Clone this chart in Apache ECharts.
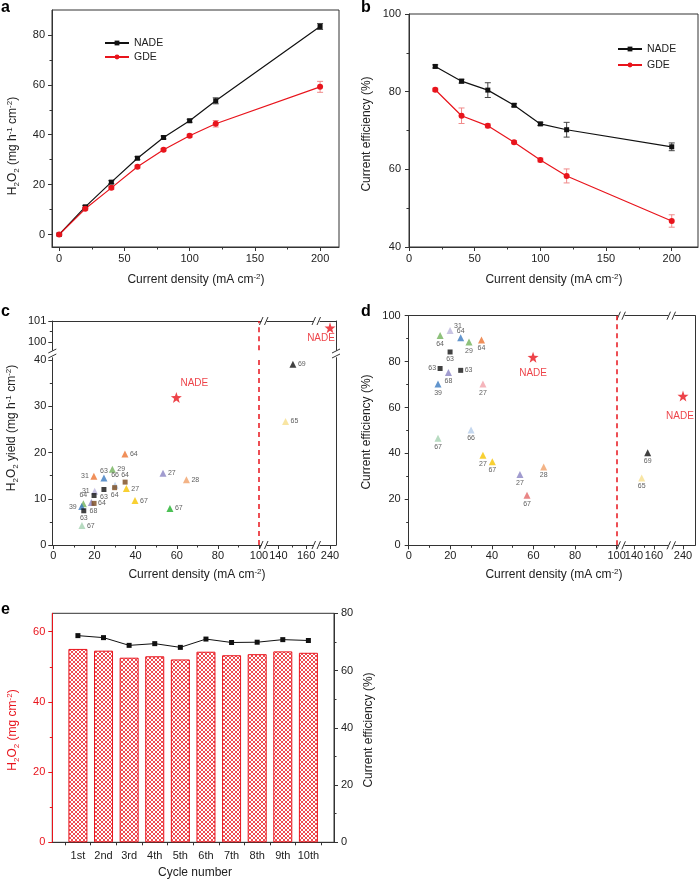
<!DOCTYPE html>
<html><head><meta charset="utf-8"><title>chart</title>
<script src="https://cdn.jsdelivr.net/npm/echarts@6.0.0/dist/echarts.min.js"></script>
<style>html,body{margin:0;padding:0;background:#fff;}#chart{width:699px;height:880px;}</style>
</head><body><div id="chart"></div>
<script>
// ================= DATA =================
// panel a
const densityA = [0, 20, 40, 60, 80, 100, 120, 200];
const yieldNadeA = [0, 11.1, 21.0, 30.6, 38.9, 45.6, 53.6, 83.4];
const yieldNadeErrA = [0.3, 0.5, 0.6, 0.6, 0.6, 0.6, 1.2, 1.2];
const yieldGdeA = [0, 10.3, 18.7, 27.2, 34.0, 39.6, 44.4, 59.2];
const yieldGdeErrA = [0.3, 0.5, 0.6, 0.6, 0.5, 0.6, 1.3, 2.2];
// panel b
const densityB = [20, 40, 60, 80, 100, 120, 200];
const effNadeB = [86.5, 82.7, 80.4, 76.5, 71.7, 70.2, 65.8];
const effNadeErrB = [0.4, 0.5, 1.9, 0.4, 0.4, 1.9, 1.0];
const effGdeB = [80.5, 73.8, 71.2, 67.0, 62.4, 58.3, 46.7];
const effGdeErrB = [0.4, 2.0, 0.5, 0.4, 0.5, 1.8, 1.6];
// panel c (literature yields, 0-100 mA cm-2)
const litDensityC = [34.8, 28.7, 24.6, 19.7, 53.3, 64.7, 30.0, 29.8, 34.9, 35.5, 24.6, 20.1, 19.8, 39.7, 18.5, 19.8, 14.6, 13.8, 14.8, 13.9, 56.7];
const litYieldC = [19.7, 16.4, 14.5, 14.85, 15.5, 14.1, 12.9, 12.4, 13.6, 12.2, 12.0, 11.6, 10.7, 9.6, 9.2, 9.0, 8.9, 8.3, 7.4, 4.2, 7.9];
const litRefC = ['64', '29', '63', '31', '27', '28', '66', '64', '64', '27', '63', '31', '', '67', '68', '64', '64', '39', '63', '67', '67'];
const litHighDensityC = [150.5, 145.2];
const litHighYieldC = [39.1, 26.7];
const litHighRefC = ['69', '65'];
const nadeDensityC = [59.8, 240];
const nadeYieldC = [31.9, 100.68];
// panel d (literature current efficiencies)
const litDensityD = [15.1, 19.9, 25.0, 29.0, 35.0, 19.9, 15.1, 19.1, 25.0, 14.1, 35.7, 30.0, 14.1, 35.7, 40.2, 53.5, 64.9, 56.9];
const litEffD = [91.4, 93.5, 90.4, 88.5, 89.4, 84.2, 77.0, 75.3, 76.2, 70.2, 70.2, 50.2, 46.6, 39.2, 36.4, 30.8, 34.1, 21.8];
const litRefD = ['64', '31', '64', '29', '64', '63', '63', '68', '63', '39', '27', '66', '67', '27', '67', '27', '28', '67'];
const litHighDensityD = [153.7, 147.7];
const litHighEffD = [40.3, 29.3];
const litHighRefD = ['69', '65'];
const nadeDensityD = [59.8, 240];
const nadeEffD = [81.9, 65.0];
// panel e
const cycles = ['1st', '2nd', '3rd', '4th', '5th', '6th', '7th', '8th', '9th', '10th'];
const cycleH2O2 = [55.1, 54.6, 52.6, 53.0, 52.1, 54.3, 53.3, 53.6, 54.4, 54.0];
const cycleEff = [72.2, 71.5, 68.8, 69.4, 68.1, 71.0, 69.8, 69.9, 70.8, 70.5];
// tick values
const ticksA_x = [0, 50, 100, 150, 200], minorA_x = [25, 75, 125, 175];
const ticksA_y = [0, 20, 40, 60, 80], minorA_y = [10, 30, 50, 70];
const ticksB_x = [0, 50, 100, 150, 200], minorB_x = [25, 75, 125, 175];
const ticksB_y = [40, 60, 80, 100], minorB_y = [50, 70, 90];
const ticksLow_x = [0, 20, 40, 60, 80, 100], minorLow_x = [10, 30, 50, 70, 90];
const ticksMid_x = [140, 160], minorMid_x = [150];
const ticksHigh_x = [240];
const ticksC_y = [0, 10, 20, 30, 40], minorC_y = [5, 15, 25, 35];
const ticksCup_y = [100, 101], minorCup_y = [100.5];
const ticksD_y = [0, 20, 40, 60, 80, 100], minorD_y = [10, 30, 50, 70, 90];
const ticksE_x = [0.5, 1.5, 2.5, 3.5, 4.5, 5.5, 6.5, 7.5, 8.5, 9.5, 10.5];
const labelsE_x = [1, 2, 3, 4, 5, 6, 7, 8, 9, 10];
const ticksE_yl = [0, 20, 40, 60], minorE_yl = [10, 30, 50];
const ticksE_yr = [0, 20, 40, 60, 80], minorE_yr = [10, 30, 50, 70];

// ================= STYLES =================
const FONT = '"Liberation Sans", Arial, Helvetica, sans-serif';
const RED = '#e8141c';
const INK = '#222';
const AXC = '#333';
const COL = {
  orange: '#ec7331', green: '#72b25a', blue: '#3b7bc0', lav: '#bcb5dc', purple: '#8a83c3',
  brown: '#7a4a1c', yellow: '#f6c400', pgreen: '#a5d2b2', bgreen: '#1fb02a', peach: '#f0a068',
  pink: '#f2a3aa', lblue: '#b5cdea', red67: '#e46868', pyellow: '#f6df8c', black: '#111'
};
// [shape, colour, label position, extra label options]
const styleC = [
  ['t', COL.orange, 'right'], ['t', COL.green, 'right'], ['t', COL.blue, 'top', {distance: 0}], ['t', COL.orange, 'left'],
  ['t', COL.purple, 'right'], ['t', COL.peach, 'right'], ['t', COL.lblue, 'top', {distance: 3}], ['s', COL.brown, 'bottom'],
  ['s', COL.brown, 'top'], ['t', COL.yellow, 'right'], ['s', COL.black, 'bottom'], ['t', COL.lav, 'left'],
  ['s', COL.black, 'right'], ['t', COL.yellow, 'right'], ['t', COL.purple, 'bottom', {offset: [2, 0]}], ['s', COL.brown, 'right'],
  ['t', COL.green, 'top'], ['t', COL.blue, 'left'], ['s', COL.black, 'bottom'], ['t', COL.pgreen, 'right'], ['t', COL.bgreen, 'right']
];
const styleCHigh = [['t', COL.black, 'right'], ['t', COL.pyellow, 'right']];
const styleD = [
  ['t', COL.green, 'bottom'], ['t', COL.lav, 'right', {offset: [-1, -5]}], ['t', COL.blue, 'top', {distance: 0}], ['t', COL.green, 'bottom'],
  ['t', COL.orange, 'bottom'], ['s', COL.black, 'bottom'], ['s', COL.black, 'left'], ['t', COL.purple, 'bottom'],
  ['s', COL.black, 'right'], ['t', COL.blue, 'bottom'], ['t', COL.pink, 'bottom'], ['t', COL.lblue, 'bottom'],
  ['t', COL.pgreen, 'bottom'], ['t', COL.yellow, 'bottom'], ['t', COL.yellow, 'bottom'], ['t', COL.purple, 'bottom'],
  ['t', COL.peach, 'bottom'], ['t', COL.red67, 'bottom']
];
const styleDHigh = [['t', COL.black, 'bottom'], ['t', COL.pyellow, 'bottom']];
const SHAPE = {t: 'triangle', s: 'rect'};
const SIZE = {t: 7, s: 5};

// ================= BUILDERS =================
const grids = [], xAxes = [], yAxes = [], series = [], graphics = [];
function addGrid(left, top, width, height, border) {
  grids.push({left, top, width, height, containLabel: false, outerBoundsMode: 'none',
    show: !!border, borderColor: AXC, borderWidth: 1, backgroundColor: 'transparent'});
  return grids.length - 1;
}
function mkAxis(gridIndex, min, max, position, o) {
  o = o || {};
  const color = o.color || AXC;
  return {
    type: 'value', gridIndex, min, max, position, show: o.show !== false,
    axisLine: {show: o.line !== false, onZero: false, lineStyle: {color, width: 1}},
    axisTick: {show: !!o.ticks, customValues: o.ticks, length: o.len || 4, inside: false, lineStyle: {color, width: 1}},
    axisLabel: {show: !!o.labels, customValues: o.labels, margin: o.margin == null ? 6 : o.margin,
      color: o.labelColor || INK, fontSize: 11, fontFamily: FONT, formatter: o.fmt},
    splitLine: {show: false}, splitArea: {show: false}, minorTick: {show: false}, minorSplitLine: {show: false}
  };
}
function addX(g, min, max, pos, o) { xAxes.push(mkAxis(g, min, max, pos, o)); return xAxes.length - 1; }
function addY(g, min, max, pos, o) { yAxes.push(mkAxis(g, min, max, pos, o)); return yAxes.length - 1; }

function lineSeries(name, xs, ys, xi, yi, color, symbol, size) {
  series.push({type: 'line', name, xAxisIndex: xi, yAxisIndex: yi,
    data: xs.map((x, i) => [x, ys[i]]), symbol, symbolSize: size, showSymbol: true,
    itemStyle: {color}, lineStyle: {color, width: 1.2}, z: 4, silent: true});
}
function errSeries(xs, ys, es, xi, yi, color) {
  series.push({type: 'custom', name: 'err', xAxisIndex: xi, yAxisIndex: yi, silent: true, z: 3,
    data: xs.map((x, i) => [x, ys[i], es[i]]),
    encode: {x: 0, y: 1},
    renderItem: function (params, api) {
      const x = api.value(0), y = api.value(1), e = api.value(2);
      const hi = api.coord([x, y + e]), lo = api.coord([x, y - e]);
      const w = 3, st = {stroke: color, lineWidth: 1};
      return {type: 'group', children: [
        {type: 'line', shape: {x1: hi[0], y1: hi[1], x2: lo[0], y2: lo[1]}, style: st},
        {type: 'line', shape: {x1: hi[0] - w, y1: hi[1], x2: hi[0] + w, y2: hi[1]}, style: st},
        {type: 'line', shape: {x1: lo[0] - w, y1: lo[1], x2: lo[0] + w, y2: lo[1]}, style: st}
      ]};
    }});
}
function litSeries(xi, yi, xs, ys, refs, styles) {
  const data = xs.map((x, i) => {
    const s = styles[i];
    return {value: [x, ys[i]], symbol: SHAPE[s[0]], symbolSize: SIZE[s[0]], itemStyle: {color: s[1]},
      label: Object.assign({show: refs[i] !== '', formatter: refs[i] || ' ', position: s[2], distance: 1.5,
        fontSize: 7, color: '#333', fontFamily: FONT}, s[3] || {})};
  });
  series.push({type: 'scatter', name: 'lit', xAxisIndex: xi, yAxisIndex: yi, data, clip: false, z: 5, silent: true});
}
function starSeries(xi, yi, x, y, lab) {
  series.push({type: 'scatter', name: 'star', xAxisIndex: xi, yAxisIndex: yi, clip: false, z: 6, silent: true,
    data: [{value: [x, y], symbol: 'path://M0,-10L2.35,-3.24L9.51,-3.09L3.8,1.24L5.88,8.09L0,4L-5.88,8.09L-3.8,1.24L-9.51,-3.09L-2.35,-3.24Z',
      symbolSize: 11, itemStyle: {color: RED},
      label: Object.assign({show: true, formatter: 'NADE', color: RED, fontSize: 10, fontFamily: FONT}, lab)}]});
}
function dashSeries(xi, yi, ys) {
  series.push({type: 'scatter', name: 'dash', xAxisIndex: xi, yAxisIndex: yi, data: [], silent: true,
    markLine: {silent: true, symbol: ['none', 'none'], animation: false, label: {show: false},
      lineStyle: {color: RED, type: [5, 4], width: 1.5}, data: [[{coord: [100, ys[0]]}, {coord: [100, ys[1]]}]]}});
}
function seg(x1, y1, x2, y2) { graphics.push({type: 'line', silent: true, shape: {x1, y1, x2, y2}, style: {stroke: AXC, lineWidth: 1}}); }
function hBreak(cx, y) { seg(cx - 4.5, y + 4, cx - 1, y - 4); seg(cx + 0.5, y + 4, cx + 4, y - 4); }
function vBreak(x, cy) { seg(x - 4, cy - 1, x + 4, cy - 5); seg(x - 4, cy + 4, x + 4, cy); }
function rich(color) {
  return {
    n: {fontSize: 12, lineHeight: 15, fill: color, fontFamily: FONT, verticalAlign: 'middle'},
    sub: {fontSize: 8, lineHeight: 8, fill: color, fontFamily: FONT, verticalAlign: 'bottom'},
    sup: {fontSize: 8, lineHeight: 8, fill: color, fontFamily: FONT, verticalAlign: 'top'}
  };
}
function title(x, y, text, rot, color) {
  color = color || INK;
  graphics.push({type: 'text', x, y, rotation: rot ? Math.PI / 2 : 0, silent: true,
    style: {text, rich: rich(color), fill: color, fontSize: 12, fontFamily: FONT, align: 'center', verticalAlign: 'middle'}});
}
function letter(x, y, t) {
  graphics.push({type: 'text', x, y, silent: true,
    style: {text: t, fill: '#000', fontSize: 16, fontWeight: 'bold', fontFamily: FONT, align: 'left', verticalAlign: 'top'}});
}
const T_DENS = '{n|Current density (mA cm}{sup|-2}{n|)}';
const T_EFF = '{n|Current efficiency (%)}';

// ================= PANEL a =================
const gA = addGrid(52, 10, 287, 237, true);
const xA = addX(gA, -5.5, 214.5, 'bottom', {ticks: ticksA_x, labels: ticksA_x});
addX(gA, -5.5, 214.5, 'bottom', {line: false, ticks: minorA_x, len: 2.5});
const yA = addY(gA, -5, 90, 'left', {ticks: ticksA_y, labels: ticksA_y, margin: 7});
addY(gA, -5, 90, 'left', {line: false, ticks: minorA_y, len: 2.5});
errSeries(densityA, yieldNadeA, yieldNadeErrA, xA, yA, '#444');
errSeries(densityA, yieldGdeA, yieldGdeErrA, xA, yA, '#f08a8a');
lineSeries('NADE', densityA, yieldNadeA, xA, yA, '#111', 'rect', 5);
lineSeries('GDE', densityA, yieldGdeA, xA, yA, RED, 'circle', 6);

// ================= PANEL b =================
const gB = addGrid(409, 14, 289, 233, true);
const xB = addX(gB, 0, 220, 'bottom', {ticks: ticksB_x, labels: ticksB_x});
addX(gB, 0, 220, 'bottom', {line: false, ticks: minorB_x, len: 2.5});
const yB = addY(gB, 40, 100, 'left', {ticks: ticksB_y, labels: ticksB_y, margin: 8});
addY(gB, 40, 100, 'left', {line: false, ticks: minorB_y, len: 2.5});
errSeries(densityB, effNadeB, effNadeErrB, xB, yB, '#444');
errSeries(densityB, effGdeB, effGdeErrB, xB, yB, '#f08a8a');
lineSeries('NADE', densityB, effNadeB, xB, yB, '#111', 'rect', 5);
lineSeries('GDE', densityB, effGdeB, xB, yB, RED, 'circle', 6);

// ================= PANEL c (broken axes) =================
const cLowTop = 357.7, cLowH = 187.3, cUpTop = 321, cUpH = 29.3;
const cLeft = [52.3, 208.8, -0.5, 101], cMid = [267, 46, 131.8, 165], cHigh = [320, 16, 232.8, 244.3];
const cLL = addGrid(cLeft[0], cLowTop, cLeft[1], cLowH);
const cML = addGrid(cMid[0], cLowTop, cMid[1], cLowH);
const cHL = addGrid(cHigh[0], cLowTop, cHigh[1], cLowH);
const cLU = addGrid(cLeft[0], cUpTop, cLeft[1], cUpH);
const cMU = addGrid(cMid[0], cUpTop, cMid[1], cUpH);
const cHU = addGrid(cHigh[0], cUpTop, cHigh[1], cUpH);
// lower row
const xcLL = addX(cLL, cLeft[2], cLeft[3], 'bottom', {ticks: ticksLow_x, labels: ticksLow_x, margin: 5});
addX(cLL, cLeft[2], cLeft[3], 'bottom', {line: false, ticks: minorLow_x, len: 2.5});
const ycLL = addY(cLL, 0, 40.5, 'left', {ticks: ticksC_y, labels: ticksC_y, margin: 6});
addY(cLL, 0, 40.5, 'left', {line: false, ticks: minorC_y, len: 2.5});
const xcML = addX(cML, cMid[2], cMid[3], 'bottom', {ticks: ticksMid_x, labels: ticksMid_x, margin: 5});
addX(cML, cMid[2], cMid[3], 'bottom', {line: false, ticks: minorMid_x, len: 2.5});
const ycML = addY(cML, 0, 40.5, 'left', {show: false});
const xcHL = addX(cHL, cHigh[2], cHigh[3], 'bottom', {ticks: ticksHigh_x, labels: ticksHigh_x, margin: 5});
const ycHL = addY(cHL, 0, 40.5, 'right', {});
// upper row
const xcLU = addX(cLU, cLeft[2], cLeft[3], 'top', {});
const ycLU = addY(cLU, 99.62, 101, 'left', {ticks: ticksCup_y, labels: ticksCup_y, margin: 6});
addY(cLU, 99.62, 101, 'left', {line: false, ticks: minorCup_y, len: 2.5});
const xcMU = addX(cMU, cMid[2], cMid[3], 'top', {});
const ycMU = addY(cMU, 99.62, 101, 'left', {show: false});
const xcHU = addX(cHU, cHigh[2], cHigh[3], 'top', {});
const ycHU = addY(cHU, 99.62, 101, 'right', {});
dashSeries(xcLL, ycLL, [0, 40.5]);
dashSeries(xcLU, ycLU, [99.62, 101]);
litSeries(xcLL, ycLL, litDensityC, litYieldC, litRefC, styleC);
litSeries(xcML, ycML, litHighDensityC, litHighYieldC, litHighRefC, styleCHigh);
starSeries(xcLL, ycLL, nadeDensityC[0], nadeYieldC[0], {position: 'top', distance: 4, offset: [18, 0]});
starSeries(xcHU, ycHU, nadeDensityC[1], nadeYieldC[1], {position: 'bottom', distance: 0, offset: [-9, 0]});
hBreak(264, 545); hBreak(316.5, 545); hBreak(264, 321); hBreak(316.5, 321);
vBreak(52.3, 354); vBreak(336, 354);

// ================= PANEL d =================
const dTop = 315.7, dH = 229.6;
const dLeft = [408.7, 209, 0, 100.5], dMid = [625, 43, 131, 174], dHigh = [675, 20, 232, 252];
const dL = addGrid(dLeft[0], dTop, dLeft[1], dH);
const dM = addGrid(dMid[0], dTop, dMid[1], dH);
const dR = addGrid(dHigh[0], dTop, dHigh[1], dH);
const xdL = addX(dL, dLeft[2], dLeft[3], 'bottom', {ticks: ticksLow_x, labels: ticksLow_x, margin: 5});
addX(dL, dLeft[2], dLeft[3], 'bottom', {line: false, ticks: minorLow_x, len: 2.5});
addX(dL, dLeft[2], dLeft[3], 'top', {});
const ydL = addY(dL, 0, 100, 'left', {ticks: ticksD_y, labels: ticksD_y, margin: 8});
addY(dL, 0, 100, 'left', {line: false, ticks: minorD_y, len: 2.5});
const xdM = addX(dM, dMid[2], dMid[3], 'bottom', {ticks: ticksMid_x, labels: ticksMid_x, margin: 5});
addX(dM, dMid[2], dMid[3], 'bottom', {line: false, ticks: minorMid_x, len: 2.5});
addX(dM, dMid[2], dMid[3], 'top', {});
const ydM = addY(dM, 0, 100, 'left', {show: false});
const xdR = addX(dR, dHigh[2], dHigh[3], 'bottom', {ticks: ticksHigh_x, labels: ticksHigh_x, margin: 5});
addX(dR, dHigh[2], dHigh[3], 'top', {});
const ydR = addY(dR, 0, 100, 'right', {});
dashSeries(xdL, ydL, [0, 100]);
litSeries(xdL, ydL, litDensityD, litEffD, litRefD, styleD);
litSeries(xdM, ydM, litHighDensityD, litHighEffD, litHighRefD, styleDHigh);
starSeries(xdL, ydL, nadeDensityD[0], nadeEffD[0], {position: 'bottom', distance: 5});
starSeries(xdR, ydR, nadeDensityD[1], nadeEffD[1], {position: 'bottom', distance: 10, offset: [-3, 0]});
hBreak(621.4, 545.3); hBreak(671.5, 545.3); hBreak(621.4, 315.7); hBreak(671.5, 315.7);

// ================= PANEL e =================
const pat = document.createElement('canvas');
pat.width = 4; pat.height = 4;
(function () {
  const ctx = pat.getContext('2d');
  ctx.fillStyle = '#fff'; ctx.fillRect(0, 0, 4, 4);
  ctx.strokeStyle = 'rgba(232,20,28,0.85)'; ctx.lineWidth = 0.9;
  ctx.beginPath();
  ctx.moveTo(0, 0); ctx.lineTo(4, 4);
  ctx.moveTo(4, 0); ctx.lineTo(0, 4);
  ctx.stroke();
})();
const gE = addGrid(52.3, 613.3, 281.7, 229, true);
const xE = addX(gE, 0, 11, 'bottom', {ticks: ticksE_x, labels: labelsE_x, margin: 8, len: 3,
  fmt: v => cycles[Math.round(v) - 1]});
const yEL = addY(gE, 0, 65.25, 'left', {color: RED, labelColor: RED, ticks: ticksE_yl, labels: ticksE_yl, margin: 7});
addY(gE, 0, 65.25, 'left', {color: RED, line: false, ticks: minorE_yl, len: 2.5});
const yER = addY(gE, 0, 80, 'right', {ticks: ticksE_yr, labels: ticksE_yr, margin: 7});
addY(gE, 0, 80, 'right', {line: false, ticks: minorE_yr, len: 2.5});
series.push({type: 'bar', name: 'H2O2', xAxisIndex: xE, yAxisIndex: yEL, barWidth: 19, silent: true,
  data: cycleH2O2.map((v, i) => [i + 1, v]),
  itemStyle: {color: {image: pat, repeat: 'repeat'}, borderColor: RED, borderWidth: 1}, z: 2});
series.push({type: 'line', name: 'CE', xAxisIndex: xE, yAxisIndex: yER, silent: true,
  data: cycleEff.map((v, i) => [i + 1, v]), symbol: 'rect', symbolSize: 5,
  itemStyle: {color: '#111'}, lineStyle: {color: '#111', width: 1}, z: 4});

// ================= TEXT =================
letter(1, 0, 'a'); letter(361, 0, 'b'); letter(1, 304, 'c'); letter(361, 304, 'd'); letter(1, 602, 'e');
title(196, 280, T_DENS, false);
title(13, 146, '{n|H}{sub|2}{n|O}{sub|2}{n| (mg h}{sup|-1}{n| cm}{sup|-2}{n|)}', true);
title(554, 280, T_DENS, false);
title(367, 134, T_EFF, true);
title(197, 575, T_DENS, false);
title(12, 428, '{n|H}{sub|2}{n|O}{sub|2}{n| yield (mg h}{sup|-1}{n| cm}{sup|-2}{n|)}', true);
title(554, 575, T_DENS, false);
title(367, 432, T_EFF, true);
title(195, 873, '{n|Cycle number}', false);
title(13, 730, '{n|H}{sub|2}{n|O}{sub|2}{n| (mg cm}{sup|-2}{n|)}', true, RED);
title(369, 730, T_EFF, true);

const chart = echarts.init(document.getElementById('chart'), null, {renderer: 'canvas'});
chart.setOption({
  animation: false,
  backgroundColor: '#fff',
  textStyle: {fontFamily: FONT},
  grid: grids, xAxis: xAxes, yAxis: yAxes, series,
  legend: [
    {left: 104, top: 36, padding: 0, orient: 'vertical', itemWidth: 24, itemHeight: 6, itemGap: 0, selectedMode: false,
      data: ['NADE', 'GDE'], textStyle: {fontSize: 10.5, color: INK, fontFamily: FONT, lineHeight: 14}},
    {left: 617, top: 42, padding: 0, orient: 'vertical', itemWidth: 24, itemHeight: 6, itemGap: 2, selectedMode: false,
      data: ['NADE', 'GDE'], textStyle: {fontSize: 10.5, color: INK, fontFamily: FONT, lineHeight: 14}}
  ],
  graphic: graphics
});
</script>
</body></html>
